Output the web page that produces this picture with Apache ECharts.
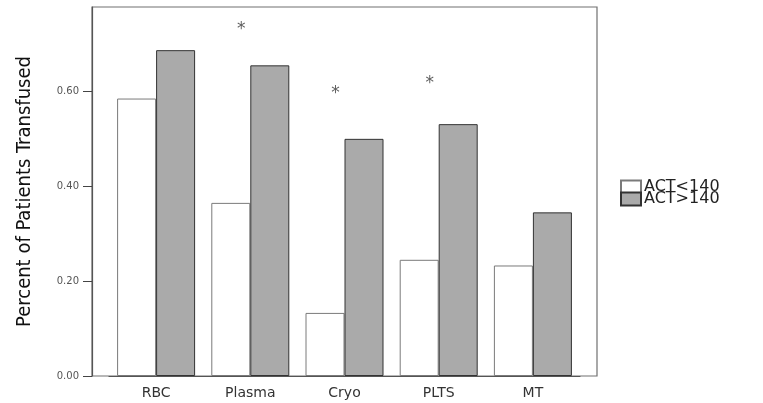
<!DOCTYPE html>
<html>
<head>
<meta charset="utf-8">
<script src="https://cdn.jsdelivr.net/npm/echarts@6/dist/echarts.min.js"></script>
<style>
html,body{margin:0;padding:0;background:#fff;}
#chart{width:763px;height:403px;}
</style>
</head>
<body>
<div id="chart"></div>
<script>
const categories = ["RBC", "Plasma", "Cryo", "PLTS", "MT"]
const actLow = [0.585, 0.365, 0.133, 0.245, 0.233]
const actHigh = [0.687, 0.655, 0.500, 0.531, 0.345]
// significance marks (*), height in axis units
const starValues = [null, 0.738, 0.603, 0.626, null]
const yTicks = [0, 0.2, 0.4, 0.6]

let chart = echarts.init(document.getElementById("chart"))

let option = {
    animation: false,
    legend: {
        orient: "vertical",
        left: 620,
        top: 179,
        padding: 0,
        itemWidth: 20,
        itemHeight: 13,
        itemGap: -4,
        icon: "rect",
        textStyle: {
            fontFamily: "DejaVu Sans",
            fontSize: 16,
            color: "#222",
            padding: [0, 0, 0, -2]
        },
        data: ["ACT<140", "ACT>140"]
    },
    grid: [
        // outer frame
        { left: 92, right: 166, top: 7, bottom: 27, show: true, borderColor: "#707070", borderWidth: 1.2 },
        // data area (categories sit inside the frame with some padding)
        { left: 109, right: 183, top: 7, bottom: 27 }
    ],
    xAxis: [
        { gridIndex: 0, type: "value", show: false },
        {
            gridIndex: 1,
            type: "category",
            data: categories,
            axisLine: { lineStyle: { color: "#555", width: 1.2 } },
            axisTick: { alignWithLabel: true, length: 8, lineStyle: { color: "#444" } },
            axisLabel: {
                margin: 10,
                fontFamily: "DejaVu Sans",
                fontSize: 14,
                color: "#333"
            }
        }
    ],
    yAxis: [
        { gridIndex: 0, type: "value", show: false },
        {
            gridIndex: 1,
            type: "value",
            min: 0,
            max: 0.778,
            interval: 0.2,
            offset: 17,
            name: "Percent of Patients Transfused",
            nameLocation: "middle",
            nameGap: 57,
            nameTextStyle: {
                fontFamily: "DejaVu Sans Condensed",
                fontSize: 20,
                color: "#111"
            },
            axisLine: { show: true, lineStyle: { color: "#555", width: 1.2 } },
            axisTick: { show: true, length: 9, customValues: yTicks, lineStyle: { color: "#444" } },
            splitLine: { show: false },
            axisLabel: {
                customValues: yTicks,
                formatter: (v) => v.toFixed(2),
                margin: 13,
                fontFamily: "DejaVu Sans",
                fontSize: 10,
                color: "#555"
            }
        }
    ],
    series: [
        {
            name: "ACT<140",
            type: "bar",
            xAxisIndex: 1,
            yAxisIndex: 1,
            barWidth: 39,
            barGap: "0%",
            data: actLow,
            itemStyle: { color: "#ffffff", borderColor: "#7a7a7a", borderWidth: 1 }
        },
        {
            name: "ACT>140",
            type: "bar",
            xAxisIndex: 1,
            yAxisIndex: 1,
            barWidth: 39,
            barGap: "0%",
            data: actHigh,
            itemStyle: { color: "#aaaaaa", borderColor: "#333333", borderWidth: 1 }
        },
        {
            name: "sig",
            type: "scatter",
            xAxisIndex: 1,
            yAxisIndex: 1,
            symbolSize: 0,
            data: starValues,
            label: {
                show: true,
                position: "inside",
                formatter: "*",
                offset: [-9, 4],
                fontFamily: "DejaVu Sans",
                fontSize: 17,
                color: "#333"
            }
        }
    ]
}

chart.setOption(option)
</script>
</body>
</html>
